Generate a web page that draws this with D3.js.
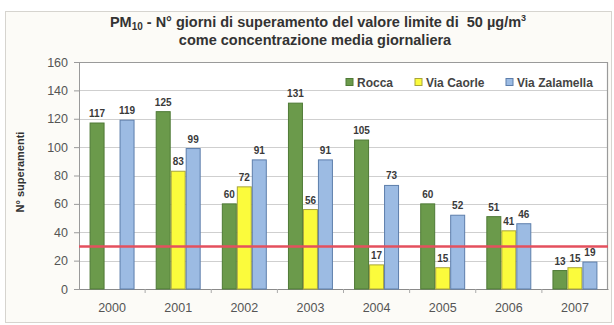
<!DOCTYPE html>
<html>
<head>
<meta charset="utf-8">
<script src="https://cdn.jsdelivr.net/npm/d3@7"></script>
<style>
  html, body { margin: 0; padding: 0; background: #ffffff; }
  svg { display: block; }
  text { font-family: "Liberation Sans", Arial, sans-serif; }
</style>
</head>
<body>
<svg id="chart" width="614" height="325"></svg>
<script>
// Years on the x axis
const years = ["2000", "2001", "2002", "2003", "2004", "2005", "2006", "2007"];
// Number of days above the daily PM10 limit, per station
const rocca = [117, 125, 60, 131, 105, 60, 51, 13];
const viaCaorle = [null, 83, 72, 56, 17, 15, 41, 15];
const viaZalamella = [119, 99, 91, 91, 73, 52, 46, 19];
const seriesNames = ["Rocca", "Via Caorle", "Via Zalamella"];
// Allowed days reference line
const threshold = 30;
const yTicks = [0, 20, 40, 60, 80, 100, 120, 140, 160];

const colors = ["#6b9a4b", "#fbfb3c", "#9cbbe3"];
const strokes = ["#4f7a36", "#a8a53a", "#5d7eab"];

const svg = d3.select("#chart");
const plot = { left: 79, right: 608, top: 62, bottom: 289 };

// Outer frame
svg.append("rect").attr("x", 5.5).attr("y", 11.5).attr("width", 606).attr("height", 311)
  .attr("fill", "#fcfbf7").attr("stroke", "#d6d4cf").attr("stroke-width", 1);

const x0 = d3.scaleBand().domain(years).range([plot.left, plot.right])
  .paddingInner(0.32).paddingOuter(0.16);
const x1 = d3.scaleBand().domain(seriesNames).range([0, x0.bandwidth()]);
const y = d3.scaleLinear().domain([0, 160]).range([plot.bottom, plot.top]);

// Plot background and gridlines
svg.append("rect").attr("x", plot.left).attr("y", plot.top)
  .attr("width", plot.right - plot.left).attr("height", plot.bottom - plot.top)
  .attr("fill", "#ffffff");

svg.append("g").selectAll("line").data(yTicks.filter(d => d > 0 && d < 160)).join("line")
  .attr("x1", plot.left).attr("x2", plot.right)
  .attr("y1", d => Math.round(y(d)) + 0.5).attr("y2", d => Math.round(y(d)) + 0.5)
  .attr("stroke", "#cfcfcf").attr("stroke-width", 1);

// Plot border (top and right)
svg.append("path")
  .attr("d", `M${plot.left},${plot.top + 0.5}H${plot.right - 0.5}V${plot.bottom}`)
  .attr("fill", "none").attr("stroke", "#9a9a9a").attr("stroke-width", 1.2);

// Y axis
const yAxis = d3.axisLeft(y).tickValues(yTicks).tickSize(5).tickPadding(6);
const gy = svg.append("g").attr("transform", `translate(${plot.left},0)`).call(yAxis);
gy.select(".domain").attr("stroke", "#9a9a9a");
gy.selectAll(".tick line").attr("stroke", "#9a9a9a");
gy.selectAll(".tick text").attr("font-size", 12.5).attr("fill", "#555")
  .attr("font-family", "Liberation Sans, Arial, sans-serif");

// X axis
const xAxis = d3.axisBottom(x0).tickSize(0).tickPadding(14);
const gx = svg.append("g").attr("transform", `translate(0,${plot.bottom})`).call(xAxis);
gx.select(".domain").attr("stroke", "#8a8a8a").attr("stroke-width", 1.2);
gx.selectAll(".tick text").attr("font-size", 12.5).attr("fill", "#555")
  .attr("font-family", "Liberation Sans, Arial, sans-serif");
// Category separators below the axis
const step = x0.step();
svg.append("g").selectAll("line").data(years.slice(1)).join("line")
  .attr("x1", d => x0(d) - (step - x0.bandwidth()) / 2)
  .attr("x2", d => x0(d) - (step - x0.bandwidth()) / 2)
  .attr("y1", plot.bottom).attr("y2", plot.bottom + 4)
  .attr("stroke", "#aaa");

// Bars
const series = [rocca, viaCaorle, viaZalamella];
const bars = [];
years.forEach((yr, i) => {
  series.forEach((s, k) => {
    if (s[i] !== null) bars.push({ year: yr, name: seriesNames[k], k, v: s[i] });
  });
});

svg.append("g").selectAll("rect").data(bars).join("rect")
  .attr("x", d => x0(d.year) + x1(d.name) + 0.5)
  .attr("y", d => y(d.v))
  .attr("width", x1.bandwidth() - 1)
  .attr("height", d => y(0) - y(d.v))
  .attr("fill", d => colors[d.k])
  .attr("stroke", d => strokes[d.k]).attr("stroke-width", 1);

// Value labels
svg.append("g").selectAll("text").data(bars).join("text")
  .attr("x", d => x0(d.year) + x1(d.name) + x1.bandwidth() / 2)
  .attr("y", d => y(d.v) - 6)
  .attr("text-anchor", "middle")
  .attr("font-size", 10).attr("font-weight", "bold").attr("fill", "#3a3a3a")
  .text(d => d.v);

// Threshold line
svg.append("line")
  .attr("x1", plot.left).attr("x2", plot.right)
  .attr("y1", y(threshold)).attr("y2", y(threshold))
  .attr("stroke", "#e4505e").attr("stroke-width", 2.5);

// Legend
const legendX = [346, 415, 506];
const lg = svg.append("g").selectAll("g").data(seriesNames).join("g")
  .attr("transform", (d, i) => `translate(${legendX[i]},82)`);
lg.append("rect").attr("x", 0).attr("y", -3.5).attr("width", 7).attr("height", 7)
  .attr("fill", (d, i) => colors[i]).attr("stroke", (d, i) => strokes[i]);
lg.append("text").attr("x", 11).attr("y", 4.5)
  .attr("font-size", 12).attr("font-weight", "bold").attr("fill", "#444")
  .text(d => d);

// Title
const t1 = svg.append("text").attr("x", 318).attr("y", 27).attr("text-anchor", "middle")
  .attr("font-size", 14.5).attr("font-weight", "bold").attr("fill", "#333")
  .attr("xml:space", "preserve");
t1.append("tspan").text("PM");
t1.append("tspan").attr("font-size", 10).attr("dy", 3).text("10");
t1.append("tspan").attr("dy", -3).text(" - N° giorni di superamento del valore limite di  50 µg/m");
t1.append("tspan").attr("font-size", 9).attr("dy", -6).text("3");

svg.append("text").attr("x", 315).attr("y", 45).attr("text-anchor", "middle")
  .attr("font-size", 14.5).attr("font-weight", "bold").attr("fill", "#333")
  .text("come concentrazione media giornaliera");

// Y axis title
svg.append("text")
  .attr("transform", "translate(24,172) rotate(-90)")
  .attr("text-anchor", "middle")
  .attr("font-size", 11).attr("font-weight", "bold").attr("fill", "#333")
  .text("N° superamenti");
</script>
</body>
</html>
